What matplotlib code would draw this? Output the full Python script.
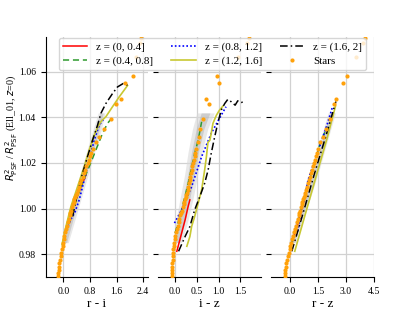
import matplotlib
matplotlib.use("Agg")
import matplotlib.pyplot as plt
import numpy as np

plt.rcParams['font.family'] = ['Liberation Serif', 'DejaVu Serif']
plt.rcParams['mathtext.fontset'] = 'dejavusans'

# ---------------- data ----------------
zbin_labels = ["z = (0, 0.4]", "z = (0.4, 0.8]", "z = (0.8, 1.2]", "z = (1.2, 1.6]", "z = (1.6, 2]"]
xlabels = ["r - i", "i - z", "r - z"]

# panel 1 (r - i)
ri_red_x = [0.18, 0.35, 0.50, 0.68]
ri_red_y = [0.9965, 1.0030, 1.0085, 1.0147]
ri_green_x = [0.03, 0.25, 0.53, 0.78, 0.98, 1.18, 1.33, 1.43]
ri_green_y = [0.989, 0.998, 1.0096, 1.0184, 1.0257, 1.0330, 1.0374, 1.0392]
ri_blue_x = [0.10, 0.22, 0.36, 0.48, 0.63, 0.78, 0.93, 1.08, 1.23]
ri_blue_y = [0.9907, 0.9950, 0.9987, 1.0038, 1.0126, 1.0213, 1.0300, 1.0366, 1.0396]
ri_yel_x = [-0.04, 0.08, 0.23, 0.43, 0.63, 0.78, 0.93, 1.05, 1.15, 1.28, 1.48, 1.68, 1.83, 1.93]
ri_yel_y = [0.9841, 0.9921, 1.0009, 1.0096, 1.0184, 1.0257, 1.0323, 1.0362, 1.0385, 1.0403, 1.0447, 1.0490, 1.0520, 1.0540]
ri_blk_x = [0.28, 0.43, 0.58, 0.73, 0.88, 1.03, 1.13, 1.28, 1.48, 1.63, 1.80, 1.93]
ri_blk_y = [0.9965, 1.0067, 1.0155, 1.0228, 1.0300, 1.0366, 1.0418, 1.0461, 1.0505, 1.0534, 1.0549, 1.0542]

# panel 2 (i - z)
iz_red_x = [0.04, 0.15, 0.23, 0.30, 0.34]
iz_red_y = [0.9812, 0.9892, 0.9950, 1.0009, 1.0038]
iz_green_x = [0.00, 0.15, 0.30, 0.45, 0.53, 0.61]
iz_green_y = [0.9892, 0.9994, 1.0110, 1.0242, 1.0300, 1.0381]
iz_blue_x = [-0.015, 0.15, 0.38, 0.61, 0.83, 1.02, 1.17]
iz_blue_y = [0.9936, 0.9994, 1.0096, 1.0228, 1.0330, 1.0396, 1.0447]
iz_yel_x = [0.27, 0.34, 0.38, 0.45, 0.53, 0.61, 0.68, 0.72, 0.755, 0.80, 0.83, 0.87, 0.95, 1.02, 1.10]
iz_yel_y = [0.9834, 0.9877, 0.9921, 0.9965, 1.0023, 1.0082, 1.0170, 1.0228, 1.0290, 1.0300, 1.0330, 1.0374, 1.0410, 1.0432, 1.0450]
iz_blk_x = [0.08, 0.23, 0.34, 0.45, 0.57, 0.68, 0.76, 0.83, 0.91, 0.98, 1.06, 1.14, 1.21, 1.29, 1.38, 1.44, 1.52, 1.59]
iz_blk_y = [0.9812, 0.9877, 0.9921, 0.9994, 1.0053, 1.0111, 1.0170, 1.0242, 1.0315, 1.0374, 1.0432, 1.0461, 1.0479, 1.0469, 1.0454, 1.0473, 1.0466, 1.0469]

# panel 3 (r - z)
rz_red_x = [0.10, 0.40, 0.80]
rz_red_y = [0.985, 0.993, 1.005]
rz_green_x = [0.10, 0.60, 1.10, 1.60, 2.00]
rz_green_y = [0.985, 1.000, 1.014, 1.028, 1.036]
rz_blue_x = [0.40, 0.97, 1.50, 2.00, 2.29]
rz_blue_y = [0.990, 1.0126, 1.025, 1.037, 1.0447]
rz_yel_x = [0.25, 0.80, 1.40, 2.00, 2.45]
rz_yel_y = [0.9812, 0.997, 1.014, 1.031, 1.045]
rz_blk_x = [0.09, 0.70, 1.30, 1.90, 2.47]
rz_blk_y = [0.9812, 0.998, 1.015, 1.031, 1.047]

# galaxy scatter envelopes (grey clouds)
cloud_y = [0.985, 0.995, 1.005, 1.015, 1.025, 1.035, 1.042]
ri_cloud_lo = [-0.05, 0.10, 0.30, 0.50, 0.70, 0.90, 1.05]
ri_cloud_hi = [0.15, 0.35, 0.55, 0.75, 0.95, 1.15, 1.25]
iz_cloud_lo = [-0.05, 0.02, 0.12, 0.22, 0.30, 0.40, 0.50]
iz_cloud_hi = [0.15, 0.30, 0.42, 0.52, 0.62, 0.75, 0.90]
rz_cloud_lo = [-0.10, 0.30, 0.70, 1.10, 1.45, 1.80, 2.05]
rz_cloud_hi = [0.35, 0.70, 1.10, 1.50, 1.85, 2.20, 2.45]

# stars
star_y = [0.9705, 0.9718, 0.973, 0.9745, 0.976, 0.9775, 0.979, 0.9805, 0.982, 0.9835, 0.985,
          0.9865, 0.988, 0.9895, 0.991, 0.9925, 0.994, 0.9955, 0.997, 0.998, 0.999, 1.0005,
          1.002, 1.003, 1.004, 1.005, 1.006, 1.007, 1.008, 1.0095, 1.011, 1.0125, 1.014,
          1.0155, 1.017, 1.0185, 1.020, 1.0215, 1.023, 1.0245, 1.026, 1.029, 1.0315, 1.035,
          1.0395, 1.046, 1.048, 1.055, 1.058, 1.0665, 1.0726, 1.0749]
star_ri = [-0.17, -0.16, -0.14, -0.13, -0.12, -0.10, -0.08, -0.06, -0.04, -0.02, -0.01,
           0.01, 0.03, 0.06, 0.08, 0.10, 0.13, 0.16, 0.19, 0.21, 0.23, 0.26,
           0.29, 0.31, 0.33, 0.36, 0.38, 0.40, 0.43, 0.47, 0.50, 0.54, 0.58,
           0.61, 0.65, 0.69, 0.73, 0.76, 0.80, 0.84, 0.88, 0.97, 1.08, 1.23,
           1.43, 1.58, 1.73, 1.86, 2.11, 2.20, 2.30, 2.35]
star_iz = [-0.08, -0.075, -0.07, -0.065, -0.06, -0.055, -0.05, -0.045, -0.04, -0.03, -0.02,
           -0.01, 0.00, 0.02, 0.04, 0.06, 0.08, 0.10, 0.12, 0.135, 0.15, 0.175,
           0.20, 0.215, 0.23, 0.245, 0.26, 0.275, 0.29, 0.305, 0.32, 0.335, 0.35,
           0.365, 0.38, 0.395, 0.41, 0.43, 0.45, 0.465, 0.48, 0.52, 0.55, 0.58,
           0.63, 0.77, 0.72, 1.00, 0.97, 1.45, 1.65, 1.71]
star_rz = [-0.30, -0.28, -0.26, -0.23, -0.20, -0.16, -0.12, -0.08, -0.03, 0.01, 0.06,
           0.10, 0.15, 0.20, 0.25, 0.30, 0.35, 0.40, 0.46, 0.50, 0.53, 0.58,
           0.63, 0.66, 0.70, 0.74, 0.78, 0.81, 0.85, 0.91, 0.97, 1.02, 1.08,
           1.13, 1.19, 1.25, 1.30, 1.35, 1.40, 1.45, 1.50, 1.62, 1.77, 1.95,
           2.14, 2.35, 2.45, 2.87, 3.09, 3.57, 3.95, 4.05]

yticks = [0.98, 1.00, 1.02, 1.04, 1.06]
xticks_list = [[0.0, 0.8, 1.6, 2.4], [0.0, 0.5, 1.0, 1.5], [0.0, 1.5, 3.0, 4.5]]
xlims = [(-0.53, 2.55), (-0.385, 1.97), (-1.03, 4.5)]
ylim = (0.970, 1.0752)

# --------------- plotting ---------------
fig, axes = plt.subplots(1, 3, sharey=True, figsize=(4.15, 3.11), dpi=100)
fig.subplots_adjust(left=0.11, right=0.9, bottom=0.11, top=0.88, wspace=0.1)

panels = [
    (ri_red_x, ri_red_y, ri_green_x, ri_green_y, ri_blue_x, ri_blue_y, ri_yel_x, ri_yel_y,
     ri_blk_x, ri_blk_y, ri_cloud_lo, ri_cloud_hi, star_ri),
    (iz_red_x, iz_red_y, iz_green_x, iz_green_y, iz_blue_x, iz_blue_y, iz_yel_x, iz_yel_y,
     iz_blk_x, iz_blk_y, iz_cloud_lo, iz_cloud_hi, star_iz),
    (rz_red_x, rz_red_y, rz_green_x, rz_green_y, rz_blue_x, rz_blue_y, rz_yel_x, rz_yel_y,
     rz_blk_x, rz_blk_y, rz_cloud_lo, rz_cloud_hi, star_rz),
]

handles = None
for i, (ax, p) in enumerate(zip(axes, panels)):
    (rx, ry, gx, gy, bx, by, yx, yy, kx, ky, clo, chi, sx) = p
    ax.grid(True, color='0.82', lw=0.9, zorder=0)
    ax.set_axisbelow(True)
    ax.fill_betweenx(cloud_y, clo, chi, color='0.85', alpha=0.6, lw=0, zorder=1)
    lo = np.array(clo); hi = np.array(chi)
    mid = (lo + hi) / 2; hw = (hi - lo) / 4
    ax.fill_betweenx(cloud_y, mid - hw, mid + hw, color='0.7', alpha=0.5, lw=0, zorder=1)
    h1, = ax.plot(rx, ry, color='red', lw=1.1, zorder=3, label=zbin_labels[0])
    h2, = ax.plot(gx, gy, color='#2e9a2e', lw=1.1, ls=(0, (4, 2.5)), zorder=3, label=zbin_labels[1])
    h3, = ax.plot(bx, by, color='blue', lw=1.2, ls=(0, (1, 1.3)), zorder=3, label=zbin_labels[2])
    h4, = ax.plot(yx, yy, color='#c8c832', lw=1.2, zorder=3, label=zbin_labels[3])
    h5, = ax.plot(kx, ky, color='black', lw=1.1, ls=(0, (5, 2, 1, 2)), zorder=3, label=zbin_labels[4])
    h6, = ax.plot(sx, star_y, ls='none', marker='o', ms=3.0, mew=0, color='#ffa10a', zorder=4, label='Stars')
    if handles is None:
        handles = [h1, h2, h3, h4, h5, h6]
    ax.set_xlim(*xlims[i])
    ax.set_xticks(xticks_list[i])
    ax.set_xticklabels([f"{t:.1f}" for t in xticks_list[i]], fontsize=7)
    ax.set_xlabel(xlabels[i], fontsize=9.5, labelpad=2)
    ax.spines['top'].set_visible(False)
    ax.spines['right'].set_visible(False)
    if i > 0:
        ax.spines['left'].set_visible(False)
    ax.tick_params(axis='both', labelsize=7, length=3.5, width=0.8)

axes[0].set_ylim(*ylim)
axes[0].set_yticks(yticks)
axes[0].set_yticklabels([f"{t:.2f}" for t in yticks], fontsize=7)
axes[0].set_ylabel(r'$R^2_{\rm PSF}$ / $R^2_{\rm PSF}$ (Ell_01, $z$=0)', fontsize=7.2)
axes[0].yaxis.set_label_coords(-0.25, 0.62)

fig.legend(handles=handles, loc='upper center', bbox_to_anchor=(0.512, 0.897), ncol=3,
           fontsize=8, framealpha=0.8, handlelength=2.2, columnspacing=1.6, borderpad=0.4,
           labelspacing=0.35)

fig.savefig('out.png', dpi=100)
